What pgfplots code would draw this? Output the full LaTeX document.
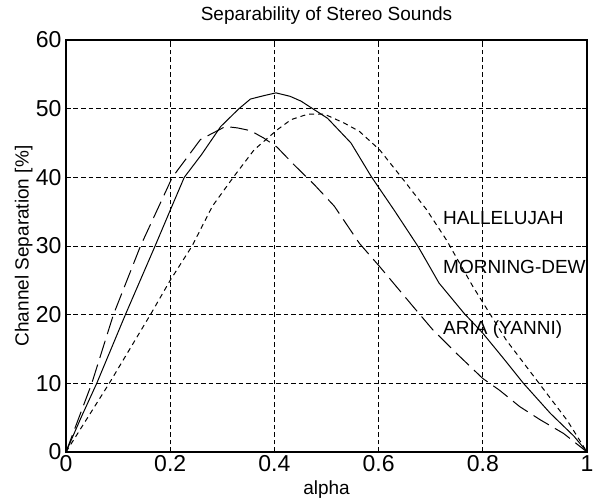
\documentclass[border=0pt]{standalone}
\usepackage{fontspec}
\setmainfont{Liberation Sans}
\usepackage{pgfplots}
\pgfplotsset{compat=1.18}
\begin{document}
\begin{tikzpicture}
\begin{axis}[
  name=main,
  scale only axis, width=521pt, height=412pt,
  xmin=0, xmax=1, ymin=0, ymax=60,
  xtick={0,0.2,0.4,0.6,0.8,1}, ytick={0,10,20,30,40,50,60},
  grid=major,
  major grid style={black, line width=0.9pt, dash pattern=on 4.5pt off 3pt},
  axis line style={line width=1.3pt},
  tick style={black, line width=0.8pt},
  tick align=inside, major tick length=5pt,
  ticklabel style={font=\fontsize{23}{25}\selectfont},
  /pgf/number format/assume math mode=true,
  xticklabel style={yshift=0pt},
  yticklabel style={xshift=-1pt},
  title={Separability of Stereo Sounds},
  title style={font=\fontsize{19}{21}\selectfont, at={(axis description cs:0.5,1.044)}, anchor=center},
  xlabel={alpha}, ylabel={Channel Separation [\%]},
  xlabel style={font=\fontsize{19}{21}\selectfont, at={(axis description cs:0.5,-0.092)}, anchor=center},
  ylabel style={font=\fontsize{19}{21}\selectfont, at={(axis description cs:-0.081,0.5)}, anchor=center},
  clip=false,
]
% solid
\addplot[black, line width=1pt, solid] coordinates {
(0,0) (0.03,5.2) (0.059,10) (0.114,20) (0.171,30) (0.2,35.2) (0.227,40)
(0.26,43.3) (0.297,47.4) (0.332,50) (0.354,51.4) (0.38,51.9) (0.403,52.3)
(0.43,51.8) (0.451,51.1) (0.502,48.6) (0.547,45) (0.586,40.1) (0.63,35.2)
(0.676,29.9) (0.716,24.6) (0.764,20.2) (0.8,17.3) (0.84,13.6) (0.878,10)
(0.93,5.6) (0.975,2.3) (1,0)
};
% short dashed
\addplot[black, line width=1pt, dash pattern=on 5pt off 4pt] coordinates {
(0,0) (0.083,10) (0.162,20) (0.2,25) (0.242,30) (0.281,35.8) (0.322,40.1)
(0.361,44) (0.405,46.9) (0.432,48.4) (0.464,49.2) (0.496,49.2) (0.534,47.9)
(0.563,46.7) (0.602,44) (0.647,39.7) (0.692,35.3) (0.73,30.9) (0.781,24.1)
(0.813,20.2) (0.845,16.3) (0.884,12.4) (0.923,8.5) (0.962,4.6) (1,0)
};
% long dashed
\addplot[black, line width=1pt, dash pattern=on 18pt off 7pt] coordinates {
(0,0) (0.0495,10) (0.091,20) (0.143,30) (0.204,40) (0.258,45.5) (0.306,47.4)
(0.329,47.2) (0.354,46.8) (0.38,45.7) (0.405,44.4) (0.438,41.8) (0.477,38.9)
(0.515,35.8) (0.563,30.4) (0.602,27) (0.666,21.2) (0.704,17.8) (0.749,14.4)
(0.8,10.7) (0.832,9) (0.871,6.6) (0.91,4.7) (0.955,2.7) (1,0)
};
\node[anchor=west, inner sep=0pt, font=\fontsize{19}{21}\selectfont] at (axis cs:0.7236,34.1) {HALLELUJAH};
\node[anchor=west, inner sep=0pt, font=\fontsize{19}{21}\selectfont] at (axis cs:0.7236,27.0) {MORNING-DEW};
\node[anchor=west, inner sep=0pt, font=\fontsize{19}{21}\selectfont] at (axis cs:0.7236,17.8) {ARIA (YANNI)};
\end{axis}
\path (main.south west) ++(-66pt,-49pt) coordinate (bbA);
\path (main.north east) ++(12pt,40pt) coordinate (bbB);
\path (bbA) rectangle (bbB);
\end{tikzpicture}
\end{document}
